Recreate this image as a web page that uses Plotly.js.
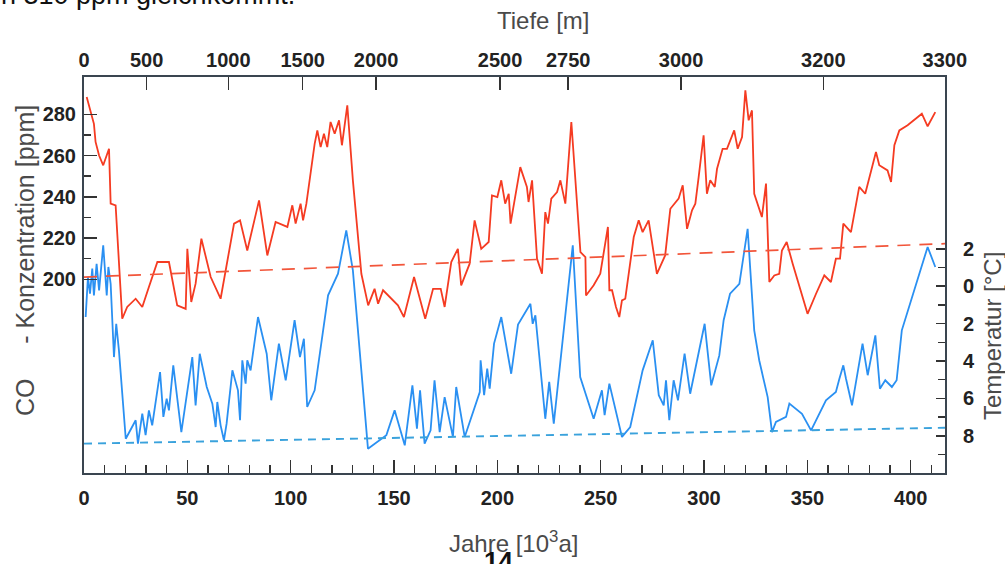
<!DOCTYPE html>
<html><head><meta charset="utf-8">
<script src="https://cdn.plot.ly/plotly-3.0.1.min.js"></script>
<style>html,body{margin:0;padding:0;background:#fff;}#chart{width:1005px;height:564px;}</style>
</head><body><div id="chart"></div>
<script>
// ---- data (ages in 10^3 years) ----
var co2Age = [1.3,3.2,4.8,5.6,7.3,9.3,10.5,12.1,12.9,15.3,18.5,20.9,25.0,28.2,31.4,35.5,41.1,45.1,49.2,50.0,51.9,54.0,56.8,61.3,66.1,72.6,75.5,79.0,84.7,88.7,92.7,98.4,100.8,102.4,104.8,106.0,107.6,111.6,112.9,114.5,116.1,117.7,119.3,121.3,123.4,124.8,127.4,130.1,134.2,137.5,140.6,142.3,144.7,151.9,154.8,159.7,165.1,168.9,172.6,174.5,177.7,180.9,182.5,186.6,189.0,192.2,195.8,197.4,200.0,201.9,203.8,205.5,206.4,211.1,214.3,215.1,216.8,219.2,221.6,223.2,224.5,226.1,228.9,230.5,232.9,235.8,240.2,242.6,242.9,246.6,249.8,253.5,254.2,255.5,257.4,259.0,260.3,261.9,266.0,268.4,270.3,273.2,277.2,281.2,283.7,287.7,289.7,291.8,294.2,295.8,297.4,299.8,301.4,303.0,305.2,306.3,309.0,311.1,314.6,316.3,318.4,320.0,321.6,323.2,324.3,328.0,330.0,331.6,334.0,336.4,337.7,340.0,342.9,350.1,354.2,358.2,361.4,363.8,365.8,367.4,371.1,375.1,378.0,383.2,384.8,388.8,390.5,392.1,394.5,398.5,405.4,408.2,411.9];
var co2Ppm = [288.4,282,275.4,266.6,260,255.3,258.5,263.3,236.7,235.9,180.9,186.6,190.6,186.6,196.3,208.4,208.4,187.4,185.7,214.8,189,197.9,219.7,201.1,190.6,227,228.6,214,238.3,211.6,227.8,225.4,235.9,227,236.7,228.6,236.7,265.7,272.2,264.1,270.6,264.1,276.3,270.6,277.1,265,284.4,248,202.7,187.4,195.4,188.2,194.7,187.4,181.7,201.1,180.9,195.4,195.4,186.6,208.4,214.8,197.1,207.6,228.6,214.8,218.1,240.7,239.9,248,236.7,241.5,227,254.4,244.8,237.5,248,210,202.7,232.6,227,239.1,242.3,248,236.7,276.3,213.2,210.8,192.2,197.1,202.7,225.4,194.7,194.7,186.6,181.7,189.8,190.6,220.5,228.6,222.9,228.6,202.7,211.6,234.2,239.1,245.6,224.5,233.5,236.7,249.6,269.8,241.5,248,244.8,253.6,263.3,263.3,272.2,263.3,269,291.6,277.1,281.9,241.5,230.2,246.4,198.7,201.9,202.7,214,218.1,207.6,183.3,193,201.9,198.7,210,210,227,222.9,244.8,241.5,261.7,255.3,252.8,247.2,265,272.2,274.7,280.3,274.2,281.1];

var tempAge = [0.8,1.9,2.9,4.0,4.8,6.1,7.3,8.1,9.3,11.0,11.8,12.9,14.5,15.6,16.9,20.2,25.0,26.1,28.2,29.8,31.4,33.0,36.8,38.4,40.0,41.1,43.2,47.1,52.4,54.0,56.0,59.4,62.1,63.7,64.5,66.1,67.7,69.0,71.8,74.5,75.5,76.6,78.2,79.0,80.6,84.2,88.4,90.6,94.3,97.6,101.9,104.5,106.4,108.0,111.6,118.1,122.9,126.9,130.1,137.4,146.3,150.3,155.2,158.9,161.1,162.6,164.8,167.7,169.6,172.1,174.5,178.5,180.1,184.2,191.5,191.9,193.6,195.1,196.3,198.4,201.9,206.7,210.0,216.0,217.1,218.4,223.2,225.1,227.3,236.5,240.1,246.6,250.6,251.9,254.2,260.3,264.3,270.3,275.2,278.1,280.5,281.6,283.2,285.3,287.4,290.6,293.3,300.3,303.5,307.4,309.5,312.6,317.1,321.1,324.3,326.7,330.8,332.9,334.8,339.7,341.3,347.4,351.8,359.0,363.8,365.5,367.4,368.7,371.6,376.7,379.2,382.9,385.1,387.7,390.9,393.2,395.7,408.2,411.9];
var tempAnomaly = [-1.65,0.49,-0.40,0.94,-0.49,1.20,-0.22,0.85,2.19,-0.49,1.03,0.13,-3.79,-2.01,-3.43,-8.16,-7.17,-8.42,-6.82,-7.97,-6.64,-7.44,-4.59,-6.99,-6.02,-6.64,-4.23,-7.80,-3.79,-6.37,-3.61,-5.39,-6.28,-7.53,-6.19,-7.44,-8.24,-7.35,-4.50,-5.57,-7.17,-3.96,-5.21,-3.96,-4.50,-1.65,-3.61,-6.10,-3.07,-5.03,-1.82,-3.79,-2.81,-6.46,-5.57,-0.49,0.67,2.99,0.85,-8.69,-7.97,-6.64,-8.51,-5.30,-7.62,-5.57,-8.42,-7.71,-5.03,-7.80,-5.93,-8.06,-5.39,-8.06,-5.66,-3.96,-5.83,-4.41,-5.48,-3.07,-1.65,-4.68,-2.05,-0.94,-2.01,-1.56,-7.09,-5.12,-7.35,2.19,-4.86,-7.09,-5.57,-6.90,-5.21,-8.06,-7.53,-4.50,-2.89,-5.83,-6.37,-5.03,-7.17,-5.03,-6.10,-3.61,-5.75,-2.01,-5.30,-3.70,-1.82,-0.40,0.13,3.07,-2.36,-3.96,-5.93,-7.80,-7.26,-6.99,-6.28,-6.82,-7.71,-6.10,-5.66,-4.95,-4.23,-4.95,-6.37,-3.07,-4.76,-2.63,-5.48,-5.03,-5.39,-5.03,-2.36,2.10,1.03];

var co2TrendAge = [0, 416.6];
var co2TrendPpm = [201.1, 217.3];
var tempTrendAge = [0, 416.6];
var tempTrendVal = [-8.42, -7.57];

var ageTicks = [0,50,100,150,200,250,300,350,400];
var ppmTicks = [200,220,240,260,280];
var ppmMinorTicks = [210,230,250,270];
var tempTicks = [2,0,-2,-4,-6,-8];
var tempTickText = ['2','0','2','4','6','8'];
var tempMinorTicks = [1,-1,-3,-5,-7,-9];
var depthTickAge = [0,30.3,69.8,105.8,141.3,201.3,234.3,288.9,357.7,416.5];
var depthTickLabel = ['0','500','1000','1500','2000','2500','2750','3000','3200','3300'];

// ---- layout helpers ----
var W = 1005, H = 564, L = 84, R = 60, T = 77, B = 91;
var PW = W - L - R, PH = H - T - B;
function px(x){ return (x - L) / PW; }
function py(y){ return (H - B - y) / PH; }

var lineCol = '#3a4550';
var tickCol = '#333';
var tickFont = {family: 'Liberation Sans, Arial, sans-serif', size: 20, color: '#222', weight: 'bold'};
var titleFont = {family: 'Liberation Sans, Arial, sans-serif', size: 24, color: '#4a4a4a'};

var traces = [
  {x: co2Age, y: co2Ppm, xaxis: 'x', yaxis: 'y', mode: 'lines', line: {color: '#f53b22', width: 1.8}, hoverinfo: 'skip'},
  {x: tempAge, y: tempAnomaly, xaxis: 'x', yaxis: 'y2', mode: 'lines', line: {color: '#2a90f2', width: 1.8}, hoverinfo: 'skip'},
  {x: co2TrendAge, y: co2TrendPpm, xaxis: 'x2', yaxis: 'y', mode: 'lines', line: {color: '#f2553a', width: 1.7, dash: '13px,9px'}, hoverinfo: 'skip'},
  {x: tempTrendAge, y: tempTrendVal, xaxis: 'x', yaxis: 'y2', mode: 'lines', line: {color: '#3aa2dc', width: 1.9, dash: '8px,6px'}, hoverinfo: 'skip'}
];

var xRange = [0, 416.6];
var layout = {
  width: W, height: H,
  margin: {l: L, r: R, t: T, b: B, pad: 0},
  paper_bgcolor: '#fff', plot_bgcolor: '#fff',
  showlegend: false,
  xaxis: {
    range: xRange, tickmode: 'array', tickvals: ageTicks,
    ticks: 'inside', ticklen: 13, tickwidth: 1.5, tickcolor: tickCol,
    showline: true, linecolor: lineCol, linewidth: 2, showgrid: false, zeroline: false,
    tickfont: tickFont, ticklabelstandoff: 6,
    minor: {dtick: 10, tick0: 0, ticks: 'inside', ticklen: 8, tickwidth: 1.5, tickcolor: tickCol, showgrid: false}
  },
  xaxis2: {
    overlaying: 'x', side: 'top', anchor: 'y', range: xRange,
    tickmode: 'array', tickvals: depthTickAge, ticktext: depthTickLabel,
    ticks: 'inside', ticklen: 13, tickwidth: 1.5, tickcolor: tickCol,
    showline: true, linecolor: lineCol, linewidth: 2, showgrid: false, zeroline: false,
    tickfont: tickFont, ticklabelstandoff: 0
  },
  yaxis: {
    range: [106.1, 298.1], tickmode: 'array', tickvals: ppmTicks,
    ticks: 'inside', ticklen: 13, tickwidth: 1.5, tickcolor: tickCol,
    showline: true, linecolor: lineCol, linewidth: 2, showgrid: false, zeroline: false,
    tickfont: tickFont, ticklabelstandoff: 2,
    minor: {tickmode: 'array', tickvals: ppmMinorTicks, ticks: 'inside', ticklen: 7, tickwidth: 1.5, tickcolor: tickCol, showgrid: false}
  },
  yaxis2: {
    overlaying: 'y', side: 'right', anchor: 'x', range: [-9.99, 11.19],
    tickmode: 'array', tickvals: tempTicks, ticktext: tempTickText,
    ticks: 'inside', ticklen: 9, tickwidth: 1.5, tickcolor: tickCol,
    showline: true, linecolor: lineCol, linewidth: 2, showgrid: false, zeroline: false,
    tickfont: tickFont, ticklabelstandoff: 12,
    minor: {tickmode: 'array', tickvals: tempMinorTicks, ticks: 'inside', ticklen: 7, tickwidth: 1.5, tickcolor: tickCol, showgrid: false}
  },
  annotations: [
    {text: 'Tiefe [m]', xref: 'paper', yref: 'paper', x: px(543), y: py(21), xanchor: 'center', yanchor: 'middle', showarrow: false, font: titleFont},
    {text: 'Jahre [10<sup>3</sup>a]', xref: 'paper', yref: 'paper', x: px(513), y: py(542), xanchor: 'center', yanchor: 'middle', showarrow: false, font: titleFont},
    {text: 'CO\u00a0\u00a0\u00a0\u00a0\u00a0-\u00a0Konzentration [ppm]', xref: 'paper', yref: 'paper', x: px(25), y: py(261), xanchor: 'center', yanchor: 'middle', textangle: -90, showarrow: false, font: {family: 'Liberation Sans, Arial, sans-serif', size: 25, color: '#4a4a4a'}},
    {text: 'Temperatur [°C]', xref: 'paper', yref: 'paper', x: px(992), y: py(336), xanchor: 'center', yanchor: 'middle', textangle: -90, showarrow: false, font: titleFont},
    {text: 'n 310 ppm gleichkommt.', xref: 'paper', yref: 'paper', x: px(-1), y: py(-5), xanchor: 'left', yanchor: 'middle', showarrow: false, font: {family: 'Liberation Sans, Arial, sans-serif', size: 27, color: '#111'}},
    {text: '14', xref: 'paper', yref: 'paper', x: px(498), y: py(561), xanchor: 'center', yanchor: 'middle', showarrow: false, font: {family: 'Liberation Sans, Arial, sans-serif', size: 26, color: '#111', weight: 'bold'}}
  ]
};

Plotly.newPlot('chart', traces, layout, {staticPlot: true, displayModeBar: false});
</script>
</body></html>
